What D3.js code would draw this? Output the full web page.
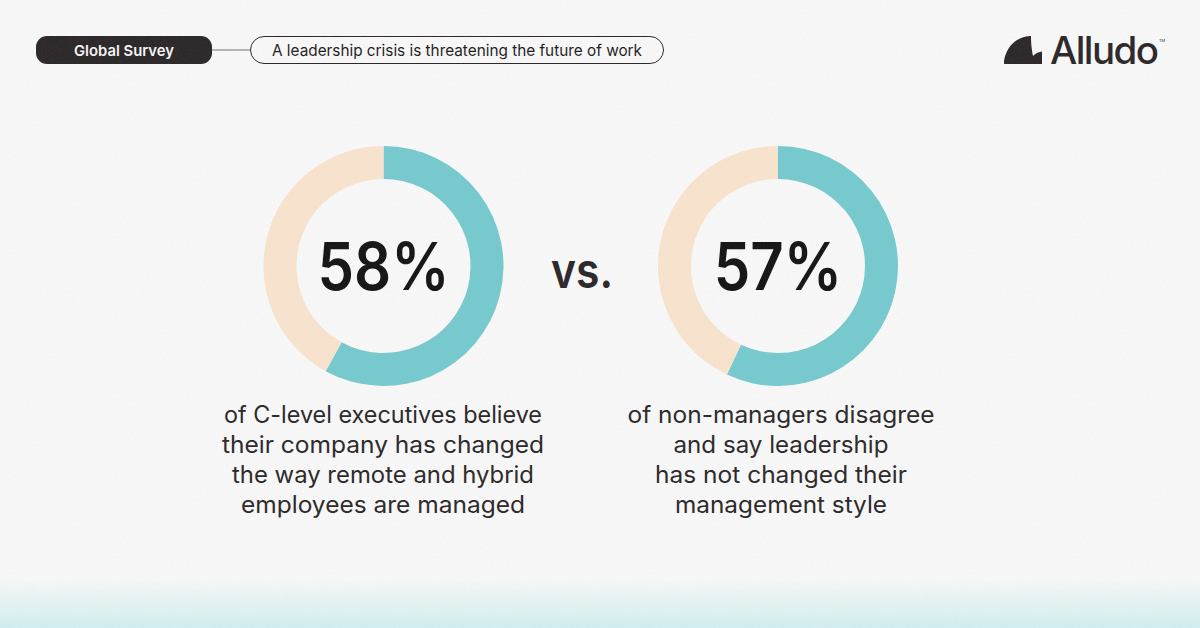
<!DOCTYPE html>
<html>
<head>
<meta charset="utf-8">
<style>
  html, body { margin: 0; padding: 0; background: #f7f7f7; }
  svg { display: block; }
  text { font-family: Inter, "Liberation Sans", sans-serif; }
</style>
</head>
<body>
<svg id="chart" width="1200" height="628"></svg>
<script src="https://cdn.jsdelivr.net/npm/d3@7"></script>
<script>
var categories = ["agree", "rest"];
var leftValues = [58, 42];
var rightValues = [57, 43];
var bigLabels = ["58%", "57%"];
var leftCaption = ["of C-level executives believe", "their company has changed", "the way remote and hybrid", "employees are managed"];
var rightCaption = ["of non-managers disagree", "and say leadership", "has not changed their", "management style"];
var badge = "Global Survey";
var headline = "A leadership crisis is threatening the future of work";
var colors = ["#76cace", "#f8e3ce"];

// measured line widths, the reference font runs wider than Inter
var leftWidths = [318, 322, 302, 284];
var rightWidths = [307, 215, 252, 212];

var svg = d3.select("#chart");
var defs = svg.append("defs");

// bottom fade
var grad = defs.append("linearGradient").attr("id", "fade").attr("x1", 0).attr("x2", 0).attr("y1", 0).attr("y2", 1);
grad.append("stop").attr("offset", 0).attr("stop-color", "#d2eef0").attr("stop-opacity", 0);
grad.append("stop").attr("offset", 1).attr("stop-color", "#d2eef0").attr("stop-opacity", 1);

// paper grain
var grain = defs.append("filter").attr("id", "grain").attr("x", 0).attr("y", 0).attr("width", "100%").attr("height", "100%");
grain.append("feTurbulence").attr("type", "fractalNoise").attr("baseFrequency", 0.8).attr("numOctaves", 2).attr("seed", 4);
grain.append("feColorMatrix").attr("type", "matrix").attr("values", "0 0 0 0 0.45  0 0 0 0 0.45  0 0 0 0 0.45  0.6 0 0 0 -0.2");

svg.append("rect").attr("width", 1200).attr("height", 628).attr("fill", "#f8f8f8");
svg.append("rect").attr("y", 578).attr("width", 1200).attr("height", 50).attr("fill", "url(#fade)");

// header pills
svg.append("line").attr("x1", 211).attr("x2", 250).attr("y1", 50).attr("y2", 50).attr("stroke", "#77736f").attr("stroke-width", 1.2);
svg.append("rect").attr("x", 36).attr("y", 36).attr("width", 176).attr("height", 28).attr("rx", 11).attr("fill", "#2c2829");
svg.append("text").attr("x", 74).attr("y", 55.5)
  .attr("font-size", 15).attr("font-weight", 600).attr("fill", "#f6f6f5")
  .attr("textLength", 100).attr("lengthAdjust", "spacingAndGlyphs").text(badge);
svg.append("rect").attr("x", 250.5).attr("y", 36.5).attr("width", 413).attr("height", 27).attr("rx", 13.5)
  .attr("fill", "none").attr("stroke", "#2c2829").attr("stroke-width", 1);
svg.append("text").attr("x", 272).attr("y", 55.5)
  .attr("font-size", 15.4).attr("fill", "#1f1c1d")
  .attr("textLength", 370).attr("lengthAdjust", "spacingAndGlyphs").text(headline);

// logo
var logo = svg.append("g").attr("transform", "translate(1004,36)");
var mark = d3.path();
mark.moveTo(0, 28);
mark.lineTo(0, 25);
mark.bezierCurveTo(2, 12, 11, 1, 26, 0);
mark.lineTo(27, 0);
mark.bezierCurveTo(27, 9, 28, 15, 29, 20);
mark.bezierCurveTo(32, 17, 35, 16, 38, 15.5);
mark.lineTo(38, 28);
mark.closePath();
logo.append("path").attr("d", mark.toString()).attr("fill", "#2c2829");
logo.append("text").attr("x", 46).attr("y", 28).attr("font-size", 38.5).attr("font-weight", 500)
  .attr("letter-spacing", -1.6).attr("fill", "#2c2829").text("Alludo");
logo.append("text").attr("x", 155).attr("y", 6).attr("font-size", 4).attr("fill", "#2c2829").text("TM");

// donuts
var pie = d3.pie().sort(null).startAngle(0).endAngle(2 * Math.PI);
var arc = d3.arc().innerRadius(87).outerRadius(120);
var centerX = d3.scaleOrdinal().domain(bigLabels).range([383.5, 778]);

function drawDonut(values, label, caption, widths, captionShift) {
  var g = svg.append("g").attr("transform", "translate(" + centerX(label) + ",266)");
  g.selectAll("path").data(pie(values)).enter().append("path")
    .attr("d", arc)
    .attr("fill", function(d, i) { return colors[i]; });
  // squeezed to the reference width
  var big = g.append("text").attr("y", 23.5).attr("font-size", 66).attr("font-weight", 600)
    .attr("fill", "#161516").text(label);
  var w = big.node().getComputedTextLength() * 0.88;
  big.attr("x", -w / 2).attr("textLength", w).attr("lengthAdjust", "spacingAndGlyphs");
  g.selectAll("text.caption").data(caption).enter().append("text")
    .attr("class", "caption")
    .attr("x", function(d, i) { return captionShift - widths[i] / 2; })
    .attr("y", function(d, i) { return 156.5 + i * 30; })
    .attr("font-size", 23.6)
    .attr("textLength", function(d, i) { return widths[i]; })
    .attr("lengthAdjust", "spacingAndGlyphs")
    .attr("fill", "#2c2829")
    .text(function(d) { return d; });
}
drawDonut(leftValues, bigLabels[0], leftCaption, leftWidths, -0.5);
drawDonut(rightValues, bigLabels[1], rightCaption, rightWidths, 3);

svg.append("text").attr("x", 551).attr("y", 287.5)
  .attr("font-size", 49).attr("font-weight", 600)
  .attr("textLength", 62).attr("lengthAdjust", "spacingAndGlyphs")
  .attr("fill", "#2c2829").text("vs.");

svg.append("rect").attr("width", 1200).attr("height", 628).attr("filter", "url(#grain)").attr("opacity", 0.22);
</script>
</body>
</html>
